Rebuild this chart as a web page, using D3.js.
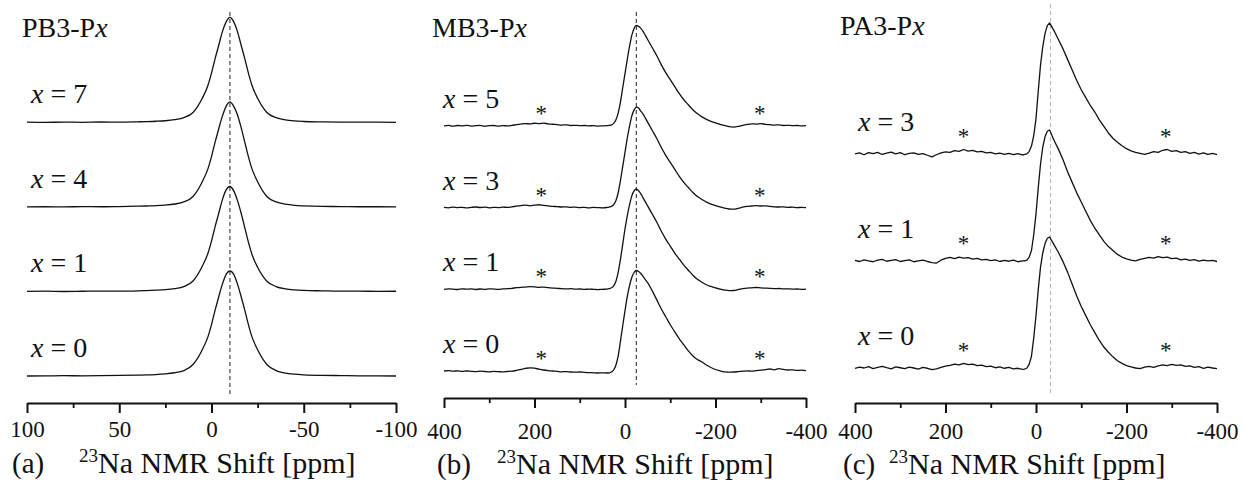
<!DOCTYPE html>
<html>
<head>
<meta charset="utf-8">
<script src="https://cdn.jsdelivr.net/npm/d3@7"></script>
<style>
  body { margin: 0; background: #fff; }
  text { font-family: "Liberation Serif", "Times New Roman", serif; fill: #111; white-space: pre; }
</style>
</head>
<body>
<div id="container"></div>
<script>
// ---- data (ppm grids + normalised intensities) ----
const ppmA = [100, 90, 80, 70, 60, 50, 40, 35, 30, 25, 20, 15, 10, 5, 2, 0, -2, -4, -6, -8, -10,
  -12, -14, -16, -18, -20, -22, -25, -30, -35, -40, -45, -50, -60, -70, -80, -90, -100];

const pb3_x7 = [0.002, 0.0, 0.003, 0.001, 0.004, 0.003, 0.006, 0.008, 0.011, 0.016, 0.026, 0.045, 0.095, 0.23,
  0.35, 0.47, 0.61, 0.74, 0.87, 0.96, 1.0, 0.96, 0.87, 0.74, 0.61, 0.47, 0.35, 0.23, 0.095, 0.045, 0.024, 0.014,
  0.009, 0.005, 0.003, 0.002, 0.003, 0.001];
const pb3_x4 = [0.0, 0.002, 0.001, 0.003, 0.002, 0.004, 0.007, 0.009, 0.012, 0.018, 0.028, 0.048, 0.1, 0.24,
  0.36, 0.48, 0.62, 0.75, 0.87, 0.96, 1.0, 0.96, 0.88, 0.76, 0.62, 0.48, 0.36, 0.24, 0.1, 0.048, 0.026, 0.015,
  0.01, 0.005, 0.004, 0.002, 0.002, 0.0];
const pb3_x1 = [0.001, 0.003, 0.0, 0.002, 0.004, 0.003, 0.006, 0.009, 0.012, 0.017, 0.027, 0.047, 0.1, 0.24,
  0.36, 0.48, 0.62, 0.75, 0.88, 0.97, 1.0, 0.96, 0.87, 0.75, 0.61, 0.47, 0.35, 0.23, 0.098, 0.047, 0.025, 0.015,
  0.01, 0.006, 0.003, 0.003, 0.001, 0.002];
const pb3_x0 = [0.0, 0.001, 0.003, 0.002, 0.003, 0.005, 0.008, 0.01, 0.014, 0.02, 0.031, 0.052, 0.11, 0.25,
  0.37, 0.49, 0.63, 0.76, 0.88, 0.97, 1.0, 0.97, 0.88, 0.76, 0.63, 0.49, 0.37, 0.25, 0.11, 0.052, 0.028, 0.017,
  0.011, 0.006, 0.004, 0.002, 0.001, 0.0];

const ppmB = [400, 390, 380, 370, 360, 350, 340, 330, 320, 310, 300, 290, 280, 270, 260, 250, 240, 230, 220, 210,
  200, 190, 180, 170, 160, 150, 140, 130, 120, 110, 100, 90, 80, 70, 60, 50, 40,
  35, 30, 25, 20, 15, 10, 5, 0, -5, -10, -15, -20, -25, -30, -35, -40, -45,
  -50, -60, -70, -80, -90, -100, -110, -120, -130, -140, -150, -160, -170, -180, -190, -200, -210, -220, -230, -240,
  -250, -260, -270, -280, -290, -300, -310, -320, -330, -340, -350, -360, -370, -380, -390, -400];

const mb3_x5 = [0, 0.005, -0.003, 0.004, 0, 0.006, -0.002, 0.003, 0.005, -0.004, 0.002, 0.004, -0.002, 0.003, 0,
  0.005, 0.012, 0.018, 0.022, 0.02, 0.026, 0.022, 0.028, 0.02, 0.016, 0.012, 0.008, 0.01, 0.004, 0.006, 0.002,
  0.004, 0, 0.003, -0.002, 0, 0.002,
  0.004, 0.01, 0.025, 0.06, 0.13, 0.24, 0.38, 0.52, 0.66, 0.79, 0.9, 0.97, 1.0, 0.99, 0.97, 0.94, 0.9,
  0.86, 0.78, 0.7, 0.61, 0.53, 0.46, 0.39, 0.32, 0.26, 0.21, 0.16, 0.12, 0.09, 0.065, 0.045, 0.03, 0.015, 0.004,
  -0.008, -0.012, -0.006, 0.006, 0.014, 0.02, 0.018, 0.022, 0.016, 0.012, 0.008, 0.01, 0.004, 0.006, 0.002, 0.004,
  0, 0.002];
const mb3_x3 = [0.002, -0.002, 0.004, 0.0, 0.003, -0.003, 0.002, 0.006, 0.001, 0.004, -0.002, 0.003, 0.0, 0.005,
  0.002, 0.008, 0.014, 0.02, 0.024, 0.018, 0.024, 0.028, 0.022, 0.018, 0.012, 0.01, 0.006, 0.008, 0.003, 0.005,
  0.0, 0.003, -0.002, 0.002, 0.0, -0.003, 0.001,
  0.005, 0.012, 0.03, 0.07, 0.15, 0.27, 0.41, 0.55, 0.69, 0.81, 0.91, 0.97, 1.0, 0.99, 0.96, 0.93, 0.89,
  0.85, 0.77, 0.69, 0.6, 0.52, 0.45, 0.38, 0.31, 0.25, 0.2, 0.15, 0.11, 0.08, 0.055, 0.035, 0.02, 0.006, -0.006,
  -0.014, -0.016, -0.008, 0.004, 0.012, 0.016, 0.02, 0.016, 0.018, 0.012, 0.008, 0.006, 0.008, 0.003, 0.004, 0.0,
  0.002, 0.0];
const mb3_x1 = [0.0, 0.004, 0.002, -0.002, 0.005, 0.001, 0.004, -0.002, 0.003, 0.0, 0.005, 0.002, -0.001, 0.004,
  0.006, 0.01, 0.016, 0.02, 0.022, 0.026, 0.024, 0.02, 0.022, 0.016, 0.012, 0.01, 0.006, 0.004, 0.006, 0.002,
  0.003, -0.001, 0.002, 0.0, -0.003, 0.0, 0.002,
  0.006, 0.015, 0.035, 0.08, 0.17, 0.3, 0.45, 0.6, 0.73, 0.84, 0.93, 0.98, 1.0, 0.98, 0.95, 0.91, 0.87,
  0.83, 0.75, 0.67, 0.58, 0.5, 0.43, 0.36, 0.3, 0.24, 0.19, 0.14, 0.1, 0.07, 0.045, 0.028, 0.014, 0.002, -0.008,
  -0.014, -0.012, -0.004, 0.006, 0.012, 0.014, 0.018, 0.014, 0.012, 0.01, 0.006, 0.008, 0.004, 0.005, 0.002, 0.003,
  0.0, 0.002];
const mb3_x0 = [0.0, 0.003, -0.002, 0.002, -0.004, 0.0, -0.003, -0.006, -0.002, -0.005, -0.008, -0.004, -0.006,
  -0.009, -0.005, -0.002, 0.006, 0.016, 0.026, 0.032, 0.028, 0.018, 0.01, 0.004, 0.0, -0.004, -0.008, -0.006,
  -0.01, -0.012, -0.01, -0.014, -0.016, -0.018, -0.02, -0.018, -0.02,
  -0.018, -0.01, 0.01, 0.06, 0.15, 0.3, 0.45, 0.6, 0.74, 0.85, 0.93, 0.98, 1.0, 0.99, 0.97, 0.94, 0.91,
  0.88, 0.8, 0.71, 0.62, 0.54, 0.46, 0.39, 0.32, 0.26, 0.2, 0.15, 0.115, 0.09, 0.06, 0.035, 0.015, 0.002, -0.008,
  -0.012, -0.01, -0.006, -0.002, 0.002, -0.002, 0.004, 0.008, 0.014, 0.02, 0.012, 0.024, 0.016, 0.01, 0.012, 0.006,
  0.008, 0.004];

const ppmC = [400, 390, 380, 370, 360, 350, 340, 330, 320, 310, 300, 290, 280, 270, 260, 250, 240, 230, 220, 210,
  200, 190, 180, 170, 160, 150, 140, 130, 120, 110, 100, 90, 80, 70, 60, 50, 40, 30,
  25, 20, 15, 10, 5, 0, -5, -10, -15, -20, -25, -30, -35, -40,
  -50, -60, -70, -80, -90, -100, -110, -120, -130, -140, -150, -160, -170, -180, -190, -200, -210, -220, -230, -240,
  -250, -260, -270, -280, -290, -300, -310, -320, -330, -340, -350, -360, -370, -380, -390, -400];

const pa3_x3 = [0.0, 0.008, -0.006, 0.01, 0.002, 0.012, -0.004, 0.006, 0.014, 0.0, 0.01, -0.006, 0.004, 0.008,
  -0.004, 0.002, -0.01, -0.022, -0.006, 0.008, 0.016, 0.012, 0.026, 0.02, 0.034, 0.022, 0.028, 0.016, 0.02, 0.008,
  0.012, 0.0, 0.006, -0.004, 0.004, -0.006, 0.002, -0.008,
  -0.004, 0.0, 0.02, 0.06, 0.14, 0.27, 0.48, 0.68, 0.82, 0.92, 0.98, 1.0, 0.97, 0.94,
  0.87, 0.8, 0.72, 0.64, 0.56, 0.49, 0.43, 0.37, 0.32, 0.26, 0.21, 0.16, 0.12, 0.09, 0.062, 0.04, 0.024, 0.012,
  0.004, -0.004, 0.006, 0.018, 0.012, 0.028, 0.034, 0.02, 0.026, 0.012, 0.018, 0.004, 0.012, -0.002, 0.008, -0.004,
  0.004, -0.006];
const pa3_x1 = [0.004, -0.004, 0.008, 0.0, -0.006, 0.006, 0.012, -0.002, 0.004, 0.01, -0.004, 0.002, 0.008, -0.006,
  0.0, 0.006, -0.004, -0.012, -0.016, 0.006, 0.02, 0.028, 0.018, 0.03, 0.022, 0.026, 0.014, 0.02, 0.008, 0.012,
  0.002, 0.008, -0.004, 0.004, -0.002, 0.006, -0.006, 0.0,
  0.0, 0.006, 0.03, 0.08, 0.2, 0.36, 0.56, 0.74, 0.87, 0.95, 0.99, 1.0, 0.96, 0.92,
  0.85, 0.77, 0.68, 0.6, 0.52, 0.45, 0.38, 0.31, 0.25, 0.2, 0.15, 0.11, 0.08, 0.05, 0.03, 0.016, 0.006, 0.0,
  0.012, 0.02, 0.028, 0.022, 0.034, 0.026, 0.03, 0.018, 0.022, 0.008, 0.014, 0.004, 0.01, -0.002, 0.006, 0.0,
  0.004, -0.004];
const pa3_x0 = [-0.002, 0.006, 0.0, 0.01, -0.004, 0.004, 0.012, 0.002, -0.006, 0.008, 0.002, -0.004, 0.006, 0.0,
  -0.008, 0.004, -0.002, -0.012, -0.006, 0.004, 0.014, 0.02, 0.03, 0.024, 0.036, 0.026, 0.03, 0.018, 0.022, 0.01,
  0.014, 0.002, 0.008, -0.002, 0.004, -0.006, -0.002, -0.01,
  -0.008, 0.0, 0.03, 0.09, 0.23, 0.4, 0.6, 0.77, 0.88, 0.95, 0.99, 1.0, 0.97, 0.94,
  0.88, 0.81, 0.73, 0.64, 0.55, 0.47, 0.4, 0.33, 0.27, 0.21, 0.16, 0.12, 0.085, 0.055, 0.035, 0.018, 0.008, 0.0,
  -0.004, 0.006, 0.012, 0.004, 0.016, 0.024, 0.018, 0.028, 0.02, 0.024, 0.012, 0.016, 0.004, 0.01, -0.002, 0.006,
  0.0, -0.004];

const sampleNames = ["PB3-P", "MB3-P", "PA3-P"];
const panelTags = ["(a)", "(b)", "(c)"];
const xDomains = [[100, -100], [400, -400], [400, -400]];
const majorTicks = [[100, 50, 0, -50, -100], [400, 200, 0, -200, -400], [400, 200, 0, -200, -400]];
const minorTicks = [[75, 25, -25, -75], [300, 100, -100, -300], [300, 100, -100, -300]];
const refShifts = [-10, -25, -32];
const sidebands = [[], [185, -298], [160, -287]];
const ppmGrids = [ppmA, ppmB, ppmC];
// bottom to top
const xLabels = [["0", "1", "4", "7"], ["0", "1", "3", "5"], ["0", "1", "3"]];
const spectra = [[pb3_x0, pb3_x1, pb3_x4, pb3_x7], [mb3_x0, mb3_x1, mb3_x3, mb3_x5], [pa3_x0, pa3_x1, pa3_x3]];

// ---- layout ----
const W = 1244, H = 485;
const layout = [
  { x0: 27, x1: 396, axisY: 403, bottom: 376, peakH: 105, step: 0.805, refTop: 12, refBot: 397, refColor: "#222",
    curve: d3.curveMonotoneX, nameX: 22, nameY: 37, labelX: 31, labelUp: 19, starUp: 5, tagX: 12, titleX: 79,
    tickY: 437, titleY: 473 },
  { x0: 444, x1: 806, axisY: 398, bottom: 371, peakH: 100.5, step: 0.813, refTop: 12, refBot: 385, refColor: "#222",
    curve: d3.curveMonotoneX, nameX: 432, nameY: 37, labelX: 443, labelUp: 18, starUp: 5, tagX: 437, titleX: 497,
    tickY: 439, titleY: 474 },
  { x0: 855, x1: 1217, axisY: 403, bottom: 368, peakH: 131, step: 0.817, refTop: 4, refBot: 396, refColor: "#b5b5b5",
    curve: d3.curveLinear, nameX: 840, nameY: 35, labelX: 858, labelUp: 23, starUp: 10, tagX: 843, titleX: 889,
    tickY: 439, titleY: 474 }
];

const svg = d3.select("#container")
  .append("svg")
  .attr("width", W)
  .attr("height", H);

svg.append("rect").attr("width", W).attr("height", H).attr("fill", "#fff");

sampleNames.forEach((name, i) => {
  const L = layout[i];
  const ppm = ppmGrids[i];
  const x = d3.scaleLinear().domain(xDomains[i]).range([L.x0, L.x1]);
  const y = d3.scaleLinear().domain([0, 1]).range([L.bottom, L.bottom - L.peakH]);
  const g = svg.append("g");

  // dashed reference line through the peak maxima
  g.append("line")
    .attr("x1", x(refShifts[i])).attr("x2", x(refShifts[i]))
    .attr("y1", L.refTop).attr("y2", L.refBot)
    .attr("stroke", L.refColor)
    .attr("stroke-width", 1)
    .attr("stroke-dasharray", "4,3");

  spectra[i].forEach((vals, k) => {
    const off = k * L.step;
    const line = d3.line()
      .x((d, j) => x(ppm[j]))
      .y((d) => y(d + off))
      .curve(L.curve);
    g.append("path")
      .datum(vals)
      .attr("d", line)
      .attr("fill", "none")
      .attr("stroke", "#111")
      .attr("stroke-width", 1.3)
      .attr("stroke-linejoin", "round");

    const t = g.append("text")
      .attr("x", L.labelX)
      .attr("y", y(off) - L.labelUp)
      .attr("font-size", 28);
    t.append("tspan").attr("font-style", "italic").text("x");
    t.append("tspan").text(" = " + xLabels[i][k]);

    sidebands[i].forEach((sb) => {
      g.append("text")
        .attr("x", x(sb))
        .attr("y", y(off) - L.starUp)
        .attr("text-anchor", "middle")
        .attr("font-size", 23)
        .text("*");
    });
  });

  // sample name
  const nm = g.append("text").attr("x", L.nameX).attr("y", L.nameY).attr("font-size", 28);
  nm.append("tspan").text(name);
  nm.append("tspan").attr("font-style", "italic").text("x");

  // axes
  const major = d3.axisBottom(x)
    .tickValues(majorTicks[i])
    .tickSize(10)
    .tickSizeOuter(0)
    .tickFormat((d) => String(d));
  const ga = g.append("g")
    .attr("transform", "translate(0," + L.axisY + ")")
    .call(major)
    .attr("font-family", null)
    .attr("font-size", 23);
  ga.select(".domain").attr("stroke", "#111").attr("stroke-width", 2.2);
  ga.selectAll(".tick line").attr("stroke", "#111").attr("stroke-width", 2);
  ga.selectAll(".tick text").attr("y", L.tickY - L.axisY).attr("dy", 0).attr("fill", "#111");

  const minor = d3.axisBottom(x).tickValues(minorTicks[i]).tickSize(5).tickFormat("");
  const gm = g.append("g")
    .attr("transform", "translate(0," + L.axisY + ")")
    .call(minor);
  gm.select(".domain").remove();
  gm.selectAll(".tick line").attr("stroke", "#111").attr("stroke-width", 1.8);

  // axis title
  g.append("text")
    .attr("x", L.tagX)
    .attr("y", L.titleY)
    .attr("font-size", 29)
    .text(panelTags[i]);
  const ttl = g.append("text")
    .attr("x", L.titleX)
    .attr("y", L.titleY)
    .attr("font-size", 30);
  ttl.append("tspan").attr("font-size", 19).attr("dy", -11).text("23");
  ttl.append("tspan").attr("dy", 11).text("Na NMR Shift [ppm]");
});
</script>
</body>
</html>
